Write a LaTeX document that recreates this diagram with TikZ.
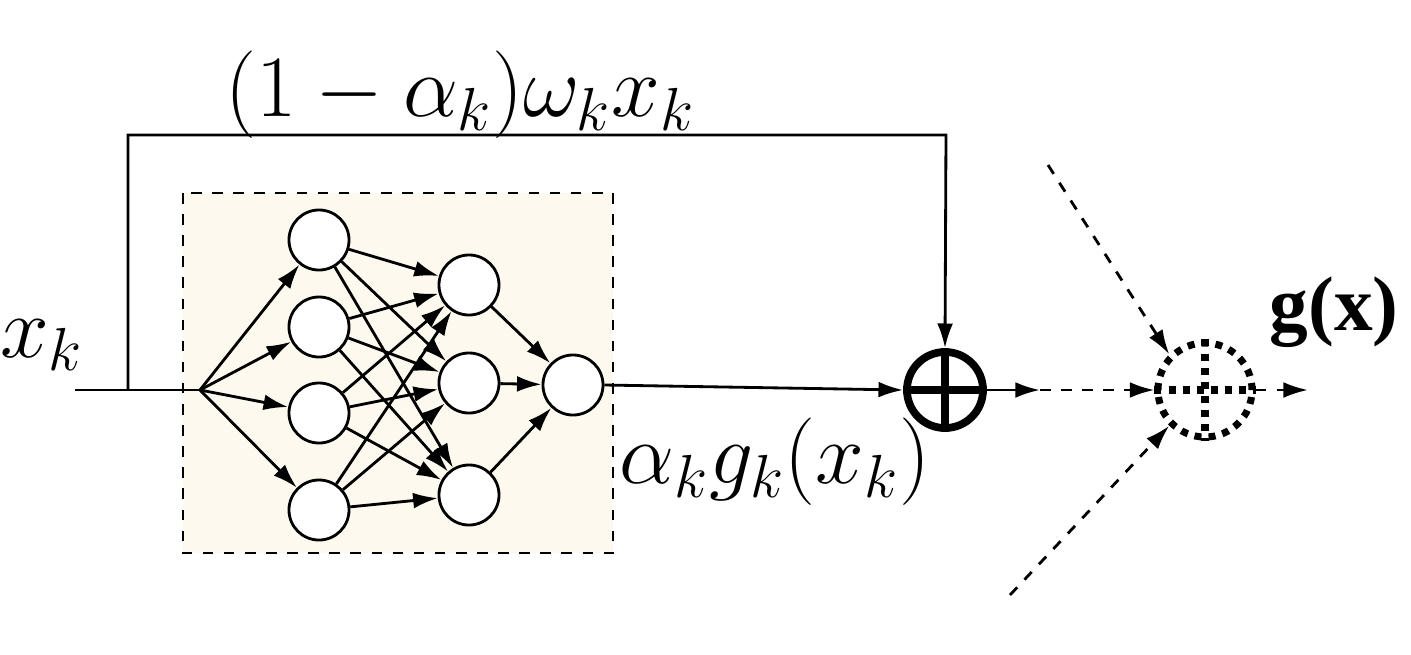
\documentclass[tikz,border=0pt]{standalone}
\usepackage{fontspec}
\setmainfont{Liberation Serif}
\usetikzlibrary{arrows.meta}
\definecolor{boxfill}{HTML}{FDF9EE}
\begin{document}
\begin{tikzpicture}[x=0.01cm,y=-0.01cm,>={Latex[length=7pt,width=4.5pt]},font=\fontsize{23}{27}\selectfont]
\tikzstyle{neuron}=[circle, draw, fill=white, thick, minimum size=0.6cm, inner sep=0pt]
\tikzstyle{link}=[->,thick]
\tikzstyle{dashlink}=[->,thick,dashed]
\useasboundingbox (0,0) rectangle (1411,654);
% network box
\draw[thick,dashed,fill=boxfill] (183,193) rectangle (613,553);
\node[style=neuron] (a1) at (319,240) {};
\node[style=neuron] (a2) at (319,327) {};
\node[style=neuron] (a3) at (319,413) {};
\node[style=neuron] (a4) at (319,510) {};
\node[style=neuron] (b1) at (469,285) {};
\node[style=neuron] (b2) at (469,383) {};
\node[style=neuron] (b3) at (469,495) {};
\node[style=neuron] (c) at (573,385) {};
\coordinate (in) at (75,390);
\coordinate (split) at (200,390);
\coordinate (skip) at (128,390);
\draw[thick] (in) -- (split);
\foreach \n in {a1,a2,a3,a4} \draw[style=link] (split) -- (\n);
\foreach \m in {a1,a2,a3,a4} \foreach \n in {b1,b2,b3} \draw[style=link] (\m) -- (\n);
\foreach \n in {b1,b2,b3} \draw[style=link] (\n) -- (c);
% sum node
\node[circle, draw, line width=2.2pt, minimum size=0.76cm, inner sep=0pt] (sum) at (945,390) {};
\draw[line width=2.2pt] (sum.north) -- (sum.south) (sum.west) -- (sum.east);
\draw[style=link] (c.east) -- (sum.west);
\draw[style=link] (skip) |- (946,135) -- (sum.north);
\coordinate (mid) at (1040,390);
\draw[style=link] (sum) -- (mid);
% output node
\node[circle, draw, line width=2pt, dotted, minimum size=0.94cm, inner sep=0pt] (out) at (1205,390) {};
\draw[line width=2pt, dotted] (out.north) -- (out.south) (out.west) -- (out.east);
\draw[style=dashlink] (mid) -- (out);
\coordinate (end) at (1308,390);
\draw[style=dashlink] (out.east) -- (end);
\coordinate (top) at (1048,165);
\coordinate (bot) at (1010,595);
\draw[style=dashlink] (top) -- (out.north west);
\draw[style=dashlink] (bot) -- (out.south west);
% labels
\node (xk) at (42,345) {$x_k$};
\node (skiplabel) at (460,95) {$(1-\alpha_k)\omega_k x_k$};
\node (glabel) at (775,462) {$\alpha_k g_k(x_k)$};
\node (gx) at (1334,312) {\fontsize{22}{26}\selectfont\textbf{g(x)}};
\end{tikzpicture}
\end{document}
